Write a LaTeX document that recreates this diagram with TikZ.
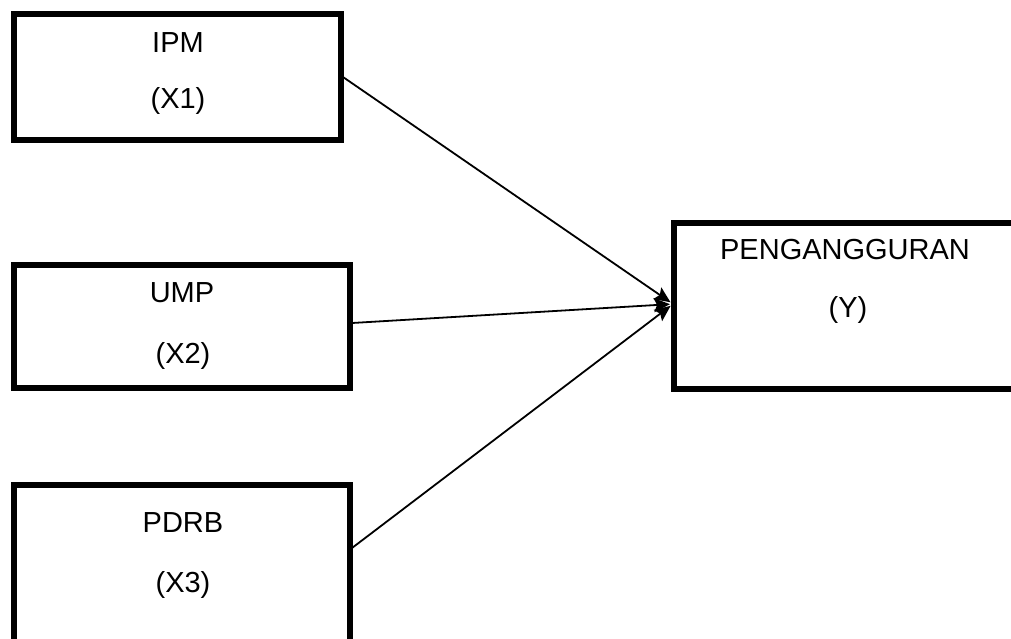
\documentclass[tikz,border=0pt]{standalone}
\usepackage{fontspec}
\setmainfont{Liberation Sans}
\usetikzlibrary{arrows.meta}
\begin{document}
\begin{tikzpicture}[x=1pt,y=-1pt,
  box/.style={draw=black,line width=5.5pt,rectangle,inner sep=0pt},
  txt/.style={font=\fontsize{29}{34}\selectfont,anchor=base,inner sep=0pt},
  arr/.style={draw=black,line width=1.8pt,-{Stealth[length=16pt,width=14pt,inset=3pt]},shorten >=3pt}]
\useasboundingbox (0,0) rectangle (1011,638);
\fill[white] (0,0) rectangle (1011,638);
% boxes
\node[box,minimum width=327pt,minimum height=126pt] (x1) at (177.5,77) {};
\node[box,minimum width=336pt,minimum height=123pt] (x2) at (182,326.5) {};
\node[box,minimum width=336pt,minimum height=180pt] (x3) at (182,575) {};
\node[box,minimum width=360pt,minimum height=166pt] (y) at (854,306) {};
% texts
\node[txt] (t1a) at (178,52) {IPM};
\node[txt] (t1b) at (178,108) {(X1)};
\node[txt] (t2a) at (182,302) {UMP};
\node[txt] (t2b) at (183,363) {(X2)};
\node[txt] (t3a) at (183,532) {PDRB};
\node[txt] (t3b) at (183,592) {(X3)};
\node[txt] (tya) at (845,259) {PENGANGGURAN};
\node[txt] (tyb) at (848,317) {(Y)};
% connector start points
\coordinate (s1) at (343,77);
\coordinate (s2) at (352,323);
\coordinate (s3) at (352,548);
\coordinate (e) at (673,304);
\draw[arr] (s1) -- (e);
\draw[arr] (s2) -- (e);
\draw[arr] (s3) -- (e);
\end{tikzpicture}
\end{document}
